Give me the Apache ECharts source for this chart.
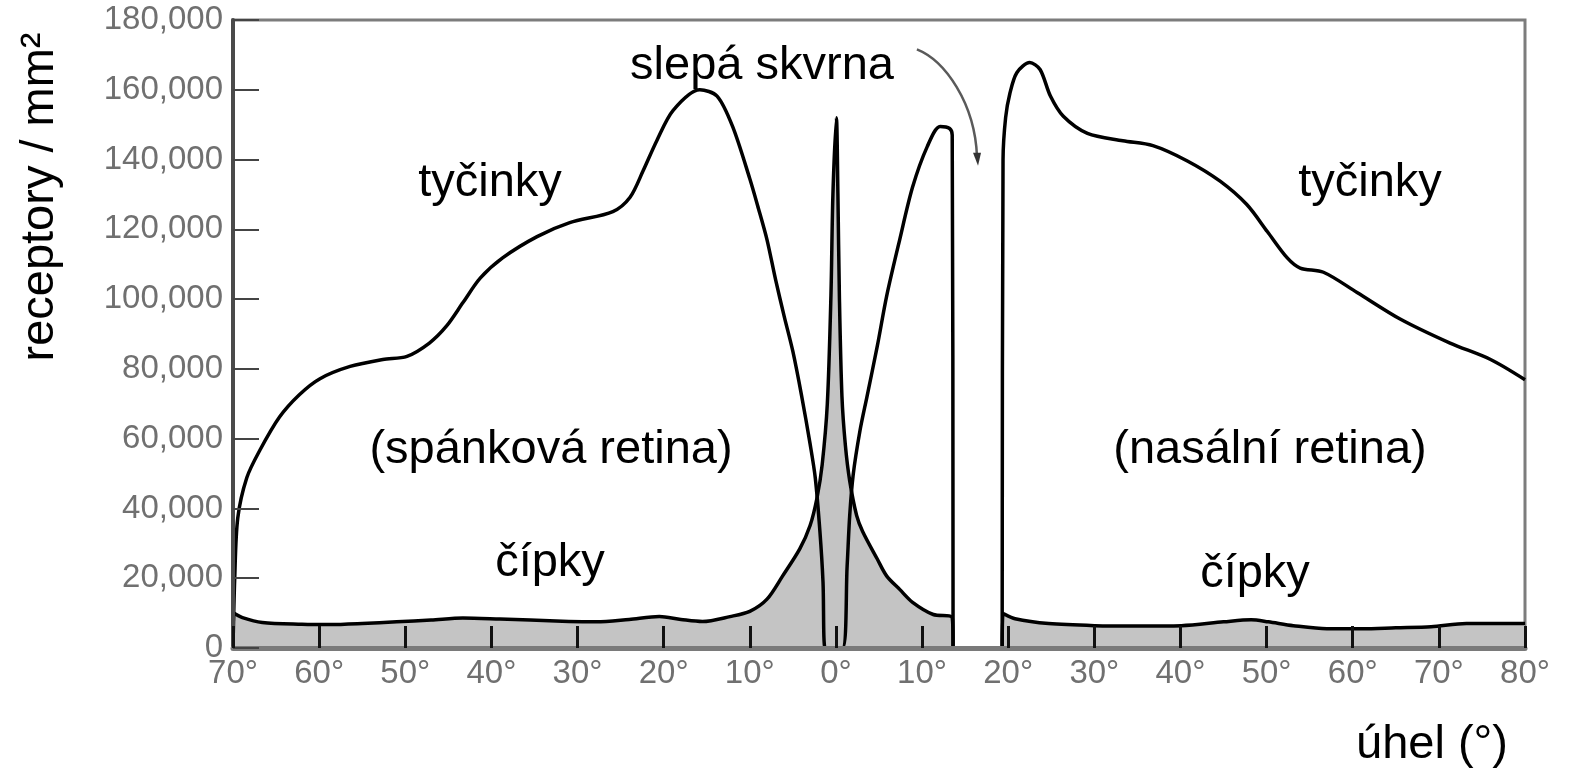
<!DOCTYPE html>
<html>
<head>
<meta charset="utf-8">
<script src="https://cdn.jsdelivr.net/npm/echarts@6/dist/echarts.min.js"></script>
<style>
  html, body { margin: 0; padding: 0; background: #fff; }
  #chart { width: 1579px; height: 769px; }
</style>
</head>
<body>
<div id="chart"></div>
<script>
  // x = úhel (°), temporal side negative, nasal side positive; y = receptory / mm2
  const xTickValues = [-70, -60, -50, -40, -30, -20, -10, 0, 10, 20, 30, 40, 50, 60, 70, 80]
  const yTickValues = [0, 20000, 40000, 60000, 80000, 100000, 120000, 140000, 160000, 180000]

  // tyčinky (rods), temporal retina up to the blind spot
  const rodTemporal = [
    [-70, 0], [-69.8, 20000], [-69.45, 37200], [-68.4, 48800], [-66.9, 56600], [-64.6, 66200],
    [-62.3, 72600], [-59.9, 77200], [-56.4, 80700], [-52.6, 82700], [-49.8, 83600], [-47.2, 87400],
    [-45.2, 92300], [-43.3, 99000], [-41.3, 106000], [-38.7, 111800], [-34.7, 117900], [-30.9, 121900],
    [-25.9, 125100], [-23.9, 129200], [-22.4, 136700], [-20.8, 145400], [-18.9, 154100], [-15.8, 160000],
    [-13.8, 158200], [-12.0, 149500], [-10.0, 134500], [-9.0, 126000], [-8.0, 117000], [-7.0, 105500],
    [-6.0, 95000], [-5.0, 85000], [-4.0, 72500], [-3.0, 58500], [-2.4, 48800], [-1.86, 33400],
    [-1.5, 18900], [-1.25, 0],
    [0.75, 0], [1.3, 23500], [1.6, 38000], [2.0, 49600], [2.8, 62400], [3.6, 72000], [4.8, 86500],
    [5.9, 101000], [7.4, 117000], [8.9, 132100], [10.6, 143700], [12.1, 149500], [13.2, 148900],
    [13.5, 147000], [13.6, 0]
  ]
  // tyčinky, nasal retina after the blind spot
  const rodNasal = [
    [19.3, 0], [19.4, 140000], [19.7, 152000], [20.2, 159000], [21.0, 164900], [22.5, 167800],
    [23.7, 165800], [24.9, 158200], [26.4, 152400], [29.2, 147500], [33.3, 145400], [36.8, 144000],
    [40.8, 139600], [44.6, 133800], [47.7, 127100], [50.1, 119300], [52.4, 111800], [53.9, 108900],
    [56.6, 107700], [60.5, 101900], [65.5, 94300], [71.3, 87400], [76.0, 82700], [80.0, 76900]
  ]
  // čípky (cones)
  const coneTemporal = [
    [-70, 0], [-69.9, 10000], [-68.9, 8700], [-66.6, 7300], [-62, 6800], [-58.8, 6700], [-55, 7000],
    [-51, 7500], [-47, 8000], [-43.3, 8600], [-39, 8300], [-35.5, 8000], [-31, 7600], [-27.8, 7500],
    [-24, 8200], [-20.5, 9000], [-18, 8200], [-15.5, 7600], [-12.3, 9000], [-10, 10500], [-8, 14000],
    [-6.2, 20600], [-4.2, 28400], [-3, 35100], [-2.2, 43000], [-1.6, 52500], [-1.0, 70000],
    [-0.58, 101000], [-0.35, 130000], [0.05, 152000], [0.23, 130000], [0.4, 101000], [0.7, 72000],
    [1.1, 58000], [1.6, 47900], [2.4, 38000], [3.1, 33400], [4.8, 25500], [5.9, 20600], [7.4, 16800],
    [8.9, 13100], [11.3, 9600], [13.5, 8700], [13.6, 0]
  ]
  const coneNasal = [
    [19.3, 0], [19.4, 9900], [20.8, 8400], [24.7, 7000], [30.1, 6400], [35, 6300], [40.1, 6400],
    [45.0, 7500], [48.2, 8100], [50.2, 7500], [53.1, 6400], [57.0, 5500], [61.1, 5500], [65, 5800],
    [69.1, 6100], [73.2, 7000], [79.7, 7000], [80, 7000]
  ]

  const FONT = '"Liberation Sans", Arial, sans-serif'
  const chart = echarts.init(document.getElementById('chart'))

  function curve(data, fill) {
    const s = {
      type: 'line',
      data: data,
      symbol: 'none',
      smooth: 0.3,
      lineStyle: { color: '#000', width: 3.5, join: 'round' },
      z: fill ? 2 : 3
    }
    if (fill) s.areaStyle = { color: '#c4c4c4', opacity: 1 }
    return s
  }

  function thousands(v) {
    return String(v).replace(/\B(?=(\d{3})+(?!\d))/g, ',')
  }

  chart.setOption({
    backgroundColor: '#fff',
    animation: false,
    grid: {
      left: 233, right: 54, top: 20, bottom: 121,
      show: true, borderColor: '#7c7c7c', borderWidth: 3
    },
    xAxis: {
      type: 'value',
      min: xTickValues[0],
      max: xTickValues[xTickValues.length - 1],
      interval: 10,
      z: 5,
      axisLine: { onZero: false, lineStyle: { color: '#7a7a7a', width: 5 } },
      axisTick: { inside: true, length: 22, lineStyle: { color: '#111', width: 3 } },
      axisLabel: {
        margin: 9, color: '#707070', fontSize: 33, fontFamily: FONT,
        formatter: function (v) { return Math.abs(v) + '°' }
      },
      splitLine: { show: false }
    },
    yAxis: {
      type: 'value',
      min: yTickValues[0],
      max: yTickValues[yTickValues.length - 1],
      interval: 20000,
      z: 5,
      axisLine: { show: true, onZero: false, lineStyle: { color: '#4a4a4a', width: 4 } },
      axisTick: { show: true, inside: true, length: 26, lineStyle: { color: '#444', width: 2 } },
      axisLabel: { margin: 10, color: '#707070', fontSize: 33, fontFamily: FONT, formatter: thousands },
      splitLine: { show: false }
    },
    series: [
      curve(coneTemporal, true),
      curve(coneNasal, true),
      curve(rodTemporal, false),
      curve(rodNasal, false)
    ]
  })

  // annotation arrow for the blind spot, placed in data coordinates
  const px = function (p) { return chart.convertToPixel({ gridIndex: 0 }, p) }
  const a0 = px([9.4, 171600])
  const a1 = px([12.66, 168400])
  const a2 = px([16.14, 156200])
  const a3 = px([16.38, 140800])

  function label(id, text, x, y, extra) {
    return Object.assign({
      type: 'text', id: id, x: x, y: y, z: 10,
      style: {
        text: text, fill: '#000', fontSize: 47, fontFamily: FONT,
        align: 'center', verticalAlign: 'middle'
      }
    }, extra || {})
  }

  chart.setOption({
    graphic: [
      label('yname', 'receptory / mm²', 40, 197, { rotation: Math.PI / 2 }),
      label('xname', 'úhel (°)', 1432, 745),
      label('blind', 'slepá skvrna', 762, 66),
      label('rodL', 'tyčinky', 490, 183),
      label('rodR', 'tyčinky', 1370, 183),
      label('tempL', '(spánková retina)', 551, 450),
      label('nasR', '(nasální retina)', 1270, 450),
      label('coneL', 'čípky', 550, 563),
      label('coneR', 'čípky', 1255, 574),
      {
        type: 'bezierCurve', id: 'arrow', z: 10,
        shape: { x1: a0[0], y1: a0[1], cpx1: a1[0], cpy1: a1[1], cpx2: a2[0], cpy2: a2[1], x2: a3[0], y2: a3[1] },
        style: { stroke: '#5a5a5a', lineWidth: 2.5, fill: null }
      },
      {
        type: 'polygon', id: 'arrowHead', z: 10,
        shape: { points: [[a3[0] - 4, a3[1] - 4], [a3[0] + 4, a3[1] - 4], [a3[0] + 1, a3[1] + 9]] },
        style: { fill: '#333' }
      }
    ]
  })
</script>
</body>
</html>
